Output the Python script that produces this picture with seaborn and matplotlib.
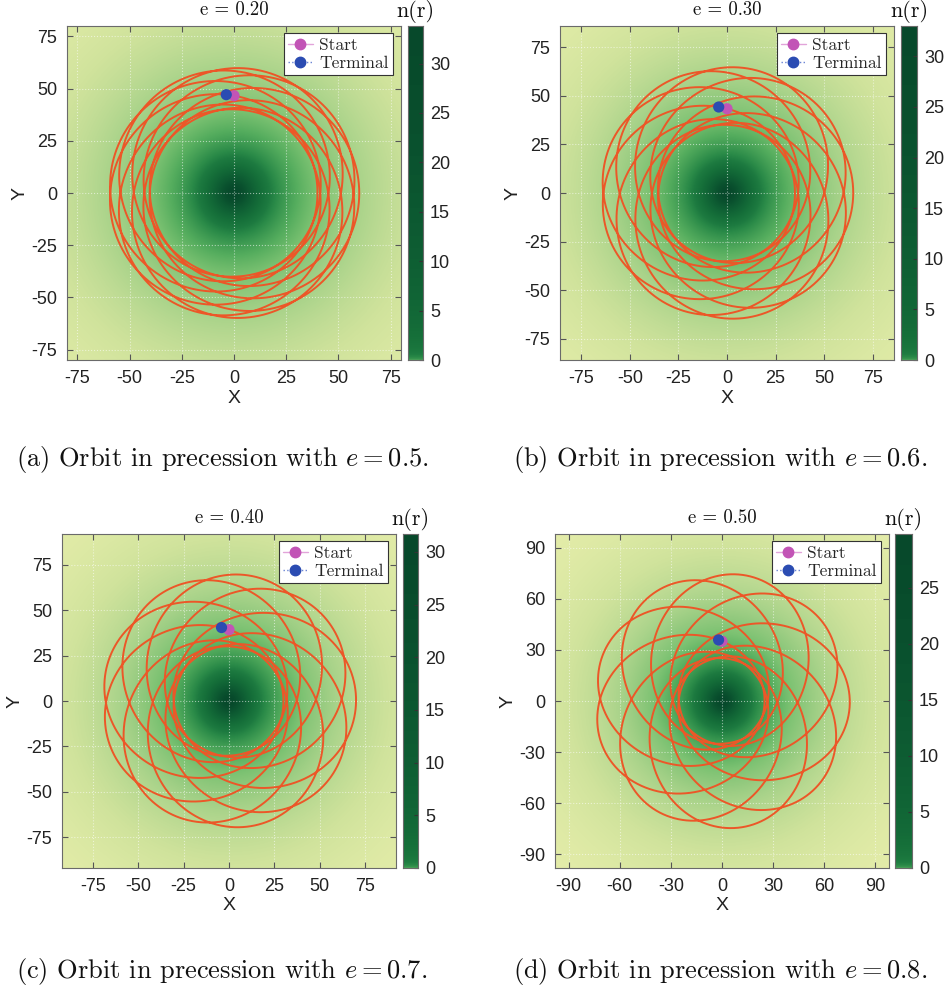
import numpy as np
import matplotlib
matplotlib.use("Agg")
import matplotlib.pyplot as plt
import seaborn as sns
from matplotlib.colors import LinearSegmentedColormap, PowerNorm
from matplotlib.lines import Line2D

# ---- orbit parameters of the four runs ----
eccentricity = [0.20, 0.30, 0.40, 0.50]
semi_major_axis = [50.0, 50.0, 50.0, 50.0]
start_anomaly_deg = [81.4, 80.7, 80.1, 82.0]      # true anomaly at the start point
start_azimuth_deg = [90.0, 90.0, 90.0, 90.0]      # start point sits on the +Y axis
revolutions = [10, 10, 10, 10]                    # azimuthal turns
radial_periods = [9, 9, 9, 9]                     # peri-to-peri cycles in the same time
final_overshoot_deg = [4.5, 5.5, 5.8, 3.2]

# ---- density field n(r) ----
density_peak = [33.8, 33.0, 31.7, 29.8]
core_radius = 18.0
density_slope = 6.0

# ---- axes ----
axis_half_width = [80, 86, 92, 98]
tick_step = [25, 25, 25, 30]
cbar_tick_max = [30, 30, 30, 25]
panel_titles = ["e = 0.20", "e = 0.30", "e = 0.40", "e = 0.50"]
captions = [
    "(a) Orbit in precession with $e = 0.5$.",
    "(b) Orbit in precession with $e = 0.6$.",
    "(c) Orbit in precession with $e = 0.7$.",
    "(d) Orbit in precession with $e = 0.8$.",
]

# ---- styling ----
ORBIT_COLOR = "#ec5728"
START_COLOR = "#c254b6"
START_LINE = "#e2a4da"
TERM_COLOR = "#2b4cb2"
TERM_LINE = "#6a84d4"
SERIF = "cmr10"
SANS = "Liberation Sans"

cmap = LinearSegmentedColormap.from_list("nr_green", [
    (0.000, "#e9efb2"),
    (0.373, "#e4eca9"),
    (0.411, "#dce9a4"),
    (0.457, "#d0e39c"),
    (0.497, "#c0dc95"),
    (0.550, "#a9d38a"),
    (0.595, "#94ca7f"),
    (0.652, "#7cc272"),
    (0.727, "#55ad5e"),
    (0.824, "#2a8a48"),
    (0.860, "#1d7a40"),
    (0.900, "#16703a"),
    (0.937, "#116536"),
    (0.967, "#0d5a32"),
    (1.000, "#07492b"),
])

sns.set_theme(style="white")
plt.rcParams.update({
    "font.family": [SANS, "DejaVu Sans"],
    "axes.unicode_minus": False,
    "mathtext.fontset": "cm",
    "axes.edgecolor": "#6a6a6a",
    "axes.linewidth": 0.8,
})

W, H = 947, 989
fig = plt.figure(figsize=(W / 100, H / 100), dpi=100)


def px_box(left, top, right, bottom):
    return [left / W, 1 - bottom / H, (right - left) / W, (bottom - top) / H]


axes_px = [(67, 26, 401, 360), (560, 26, 894, 360),
           (62, 534, 396, 868), (555, 534, 889, 868)]
cbar_px = [(408, 26, 423, 360), (901, 26, 917, 360),
           (403, 534, 418, 868), (895, 534, 912, 868)]
caption_pos = [(222, 466), (720, 466), (222, 978), (720, 978)]

for i in range(4):
    ax = fig.add_axes(px_box(*axes_px[i]))
    cax = fig.add_axes(px_box(*cbar_px[i]))
    L = axis_half_width[i]
    peak = density_peak[i]
    norm = PowerNorm(gamma=0.04, vmin=0.0, vmax=peak)

    # density background
    g = np.linspace(-L, L, 500)
    gx, gy = np.meshgrid(g, g)
    rr = np.hypot(gx, gy)
    n_r = peak * (1.0 + (rr / core_radius) ** 2) ** (-density_slope)
    ax.imshow(n_r, extent=[-L, L, -L, L], origin="lower", cmap=cmap,
              norm=norm, interpolation="bilinear", zorder=0)

    # precessing orbit r = p / (1 + e cos f)
    e = eccentricity[i]
    a = semi_major_axis[i]
    k = radial_periods[i] / revolutions[i]
    sweep = np.deg2rad(360.0 * revolutions[i] + final_overshoot_deg[i])
    phi = np.linspace(0.0, sweep, 12000)
    f = np.deg2rad(start_anomaly_deg[i]) + k * phi
    r = a * (1 - e ** 2) / (1 + e * np.cos(f))
    theta = np.deg2rad(start_azimuth_deg[i]) + phi
    x = r * np.cos(theta)
    y = r * np.sin(theta)
    sns.lineplot(x=x, y=y, sort=False, estimator=None, ax=ax,
                 color=ORBIT_COLOR, lw=1.4, zorder=3)

    sns.scatterplot(x=[x[0]], y=[y[0]], ax=ax, color=START_COLOR, s=65,
                    edgecolor="none", zorder=5)
    sns.scatterplot(x=[x[-1]], y=[y[-1]], ax=ax, color=TERM_COLOR, s=65,
                    edgecolor="none", zorder=6)

    handles = [
        Line2D([], [], color=START_LINE, ls="-", lw=1.0, marker="o",
               markersize=7.5, markerfacecolor=START_COLOR,
               markeredgecolor=START_COLOR),
        Line2D([], [], color=TERM_LINE, ls=":", lw=1.0, marker="o",
               markersize=7.5, markerfacecolor=TERM_COLOR,
               markeredgecolor=TERM_COLOR),
    ]
    leg = ax.legend(handles, ["Start", "Terminal"], loc="upper right",
                    bbox_to_anchor=(0.977, 0.978), prop={"family": SERIF, "size": 12.5},
                    frameon=True, fancybox=False, framealpha=1.0,
                    edgecolor="#333333", handlelength=1.4, handletextpad=0.4,
                    borderpad=0.25, labelspacing=0.15, borderaxespad=0.0)
    leg.get_frame().set_linewidth(0.8)
    leg.set_zorder(10)

    ticks = np.arange(-(L // tick_step[i]) * tick_step[i], L + 0.1, tick_step[i])
    ax.set_xlim(-L, L)
    ax.set_ylim(-L, L)
    ax.set_xticks(ticks)
    ax.set_yticks(ticks)
    ax.set_axisbelow(True)
    ax.grid(True, color="white", ls=":", lw=0.8, alpha=0.55)
    ax.tick_params(direction="in", bottom=True, left=True, top=True, right=True,
                   length=4, width=0.8, color="#555555", labelsize=13,
                   labelcolor="#222222", pad=7)
    ax.set_xlabel("X", fontsize=14, color="#222222", labelpad=2)
    ax.set_ylabel("Y", fontsize=14, color="#222222", labelpad=2)
    ax.set_title(panel_titles[i], family=SERIF, fontsize=13.5, pad=8,
                 color="#111111")

    # colour bar drawn from the same cmap / norm
    vals = np.linspace(0.0, peak, 800)[:, None]
    cax.imshow(vals, extent=[0, 1, 0, peak], origin="lower", aspect="auto",
               cmap=cmap, norm=norm, interpolation="nearest")
    cax.set_xlim(0, 1)
    cax.set_ylim(0, peak)
    cax.set_xticks([])
    cax.yaxis.tick_right()
    cax.set_yticks(np.arange(0, cbar_tick_max[i] + 1, 5))
    cax.tick_params(axis="y", direction="in", left=False, right=True,
                    length=3, width=0.8, color="#333333", labelsize=13,
                    labelcolor="#222222", pad=5)
    cax.annotate("n(r)", xy=(0.5, 1.0), xycoords="axes fraction",
                 xytext=(0, 9), textcoords="offset pixels", ha="center",
                 va="baseline", family=SERIF, fontsize=16, color="#111111")

    fig.text(caption_pos[i][0] / W, 1 - caption_pos[i][1] / H, captions[i],
             ha="center", va="baseline", family=SERIF, fontsize=19,
             color="#111111")

fig.savefig("out.png", dpi=100)
